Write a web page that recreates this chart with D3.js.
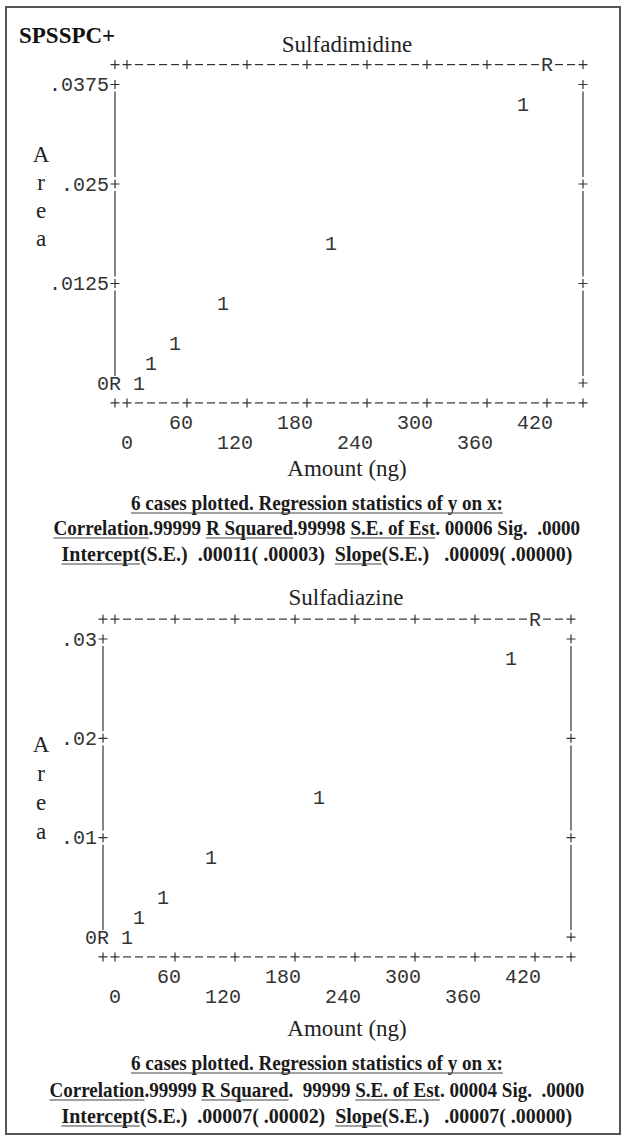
<!DOCTYPE html>
<html>
<head>
<meta charset="utf-8">
<script src="https://cdn.jsdelivr.net/npm/d3@7"></script>
<style>
body { margin: 0; background: #fff; }
svg text { white-space: pre; }
</style>
</head>
<body>
<div id="chart"></div>
<script>
// data
var amounts = [10, 25, 50, 100, 200, 400];
var areaDimidine = [0.0010, 0.0024, 0.0046, 0.0091, 0.0181, 0.0361];
var areaDiazine = [0.0008, 0.0018, 0.0036, 0.0071, 0.0141, 0.0281];

var xTicks = [0, 60, 120, 180, 240, 300, 360, 420];
var xLabels = ["0", "60", "120", "180", "240", "300", "360", "420"];

var yTicksDimidine = [0, 0.0125, 0.025, 0.0375];
var yLabelsDimidine = ["0", ".0125", ".025", ".0375"];
var yTicksDiazine = [0, 0.01, 0.02, 0.03];
var yLabelsDiazine = ["0", ".01", ".02", ".03"];

// where the regression line "R" hits the frame
var regTopAmount = [420, 420];
var regLeftArea = [0, 0];

var titles = ["Sulfadimidine", "Sulfadiazine"];

// [text, underlined]
var statsDimidine = [
    [["6 cases plotted. Regression statistics of y on x:", true]],
    [["Correlation", true], [".99999 ", false], ["R Squared", true], [".99998 ", false], ["S.E. of Est", true], [". 00006 Sig.  .0000", false]],
    [["Intercept", true], ["(S.E.)  .00011( .00003)  ", false], ["Slope", true], ["(S.E.)   .00009( .00000)", false]]
];
var statsDiazine = [
    [["6 cases plotted. Regression statistics of y on x:", true]],
    [["Correlation", true], [".99999 ", false], ["R Squared", true], [".  99999 ", false], ["S.E. of Est", true], [". 00004 Sig.  .0000", false]],
    [["Intercept", true], ["(S.E.)  .00007( .00002)  ", false], ["Slope", true], ["(S.E.)   .00007( .00000)", false]]
];

var width = 624, height = 1135;
var cw = 12; // character cell width
var ink = "#333";
var mono = "'Liberation Mono', monospace",
    serif = "'Liberation Serif', 'Times New Roman', serif";

var svg = d3.select("#chart").append("svg")
    .attr("width", width)
    .attr("height", height);

svg.append("rect")
    .attr("x", 6).attr("y", 7)
    .attr("width", 614).attr("height", 1127)
    .attr("fill", "none")
    .attr("stroke", "#555")
    .attr("stroke-width", 2);

svg.append("text")
    .attr("x", 19).attr("y", 43)
    .attr("font-family", serif)
    .attr("font-weight", "bold")
    .attr("font-size", 23)
    .attr("fill", "#111")
    .text("SPSSPC+");

var charts = [
    {title: titles[0], area: areaDimidine, ticks: yTicksDimidine, labels: yLabelsDimidine,
     stats: statsDimidine, x0: 115, y0: 84.5, rowH: 19.9, titleY: 52, titleX: 347,
     letterY: 162, letterStep: 28, amountY: 476, statsY: [510, 535, 561], statsW: [372, 527, 511]},
    {title: titles[1], area: areaDiazine, ticks: yTicksDiazine, labels: yLabelsDiazine,
     stats: statsDiazine, x0: 103, y0: 639, rowH: 19.87, titleY: 605, titleX: 346,
     letterY: 752, letterStep: 29, amountY: 1036, statsY: [1070, 1097, 1123], statsW: [372, 535, 511]}
];

charts.forEach(function(c, k) {
    var g = svg.append("g");
    var yMax = c.ticks[c.ticks.length - 1];

    // value -> character cell
    var col = d3.scaleLinear().domain([0, 420]).range([1, 36]);
    var row = d3.scaleLinear().domain([0, yMax]).range([15, 0]);
    // cell -> pixel
    var px = d3.scaleLinear().domain([0, 39]).range([c.x0, c.x0 + 39 * cw]);
    var py = d3.scaleLinear().domain([0, 15]).range([c.y0, c.y0 + 15 * c.rowH]);

    var frame = g.append("g")
        .attr("stroke", ink)
        .attr("stroke-width", 1.2)
        .attr("fill", "none");

    function cell(ci, ri, ch, anchor) {
        return g.append("text")
            .attr("x", px(ci))
            .attr("y", py(ri) + 6.5)
            .attr("text-anchor", anchor || "middle")
            .attr("font-family", mono)
            .attr("font-size", 20)
            .attr("fill", ink)
            .text(ch);
    }
    function plus(ci, ri) {
        var x = px(ci), y = py(ri);
        frame.append("path")
            .attr("d", "M" + (x - 4.5) + "," + y + "H" + (x + 4.5) +
                       "M" + x + "," + (y - 4.5) + "V" + (y + 4.5));
    }
    function dash(ci, ri) {
        var x = px(ci), y = py(ri);
        frame.append("path")
            .attr("d", "M" + (x - 4) + "," + y + "H" + (x + 4));
    }

    var tickCols = xTicks.map(function(v) { return Math.round(col(v)); });
    var tickRows = c.ticks.map(function(v) { return Math.round(row(v)); });
    var rCol = Math.round(col(regTopAmount[k]));
    var rRow = Math.round(row(regLeftArea[k]));

    // top and bottom frame lines
    d3.range(0, 40).forEach(function(i) {
        var isTick = i === 0 || i === 39 || tickCols.indexOf(i) >= 0;
        if (i === rCol) cell(i, -1, "R");
        else if (isTick) plus(i, -1);
        else dash(i, -1);
        if (isTick) plus(i, 16);
        else dash(i, 16);
    });

    // left and right frame: ticks plus the bars between them
    var rowsSorted = tickRows.slice().sort(d3.ascending);
    rowsSorted.forEach(function(r) {
        if (r === rRow) cell(0, r, "R");
        else plus(0, r);
        plus(39, r);
    });
    d3.pairs(rowsSorted).forEach(function(p) {
        [0, 39].forEach(function(ci) {
            frame.append("line")
                .attr("x1", px(ci)).attr("x2", px(ci))
                .attr("y1", py(p[0]) + 7).attr("y2", py(p[1]) - 7);
        });
    });

    // y tick labels
    c.ticks.forEach(function(v, i) {
        g.append("text")
            .attr("x", px(0) - cw / 2)
            .attr("y", py(Math.round(row(v))) + 6.5)
            .attr("text-anchor", "end")
            .attr("font-family", mono)
            .attr("font-size", 20)
            .attr("fill", ink)
            .text(c.labels[i]);
    });

    // x tick labels, staggered over two lines, last digit under the tick
    xTicks.forEach(function(v, i) {
        g.append("text")
            .attr("x", px(Math.round(col(v))) + cw / 2)
            .attr("y", py(i % 2 ? 17 : 18) + 6.5)
            .attr("text-anchor", "end")
            .attr("font-family", mono)
            .attr("font-size", 20)
            .attr("fill", ink)
            .text(xLabels[i]);
    });

    // points
    amounts.forEach(function(a, i) {
        cell(Math.round(col(a)), Math.round(row(c.area[i])), "1");
    });

    // title
    g.append("text")
        .attr("x", c.titleX).attr("y", c.titleY)
        .attr("text-anchor", "middle")
        .attr("font-family", serif)
        .attr("font-size", 23)
        .attr("fill", "#222")
        .text(c.title);

    // vertical axis title, one letter per line
    ["A", "r", "e", "a"].forEach(function(ch, i) {
        g.append("text")
            .attr("x", 41).attr("y", c.letterY + i * c.letterStep)
            .attr("text-anchor", "middle")
            .attr("font-family", serif)
            .attr("font-size", 23)
            .attr("fill", "#222")
            .text(ch);
    });

    g.append("text")
        .attr("x", 347).attr("y", c.amountY)
        .attr("text-anchor", "middle")
        .attr("font-family", serif)
        .attr("font-size", 23)
        .attr("fill", "#222")
        .text("Amount (ng)");

    // regression statistics: condensed bold lines, underlines under segments
    c.stats.forEach(function(line, i) {
        var w = c.statsW[i];
        var lg = g.append("g");
        var t = lg.append("text")
            .attr("x", 0).attr("y", 0)
            .attr("font-family", serif)
            .attr("font-weight", "bold")
            .attr("font-size", 21)
            .attr("fill", "#1a1a1a")
            .text(line.map(function(s) { return s[0]; }).join(""));
        var node = t.node();
        var sx = w / node.getComputedTextLength();
        lg.attr("transform", "translate(" + (317 - w / 2) + "," + c.statsY[i] + ") scale(" + sx + ",1)");
        var pos = 0;
        line.forEach(function(seg) {
            var n = seg[0].length;
            if (seg[1]) {
                var x1 = node.getStartPositionOfChar(pos).x,
                    x2 = node.getEndPositionOfChar(pos + n - 1).x;
                lg.append("line")
                    .attr("x1", x1).attr("x2", x2)
                    .attr("y1", 3).attr("y2", 3)
                    .attr("stroke", "#444")
                    .attr("stroke-width", 1.2);
            }
            pos += n;
        });
    });
});
</script>
</body>
</html>
